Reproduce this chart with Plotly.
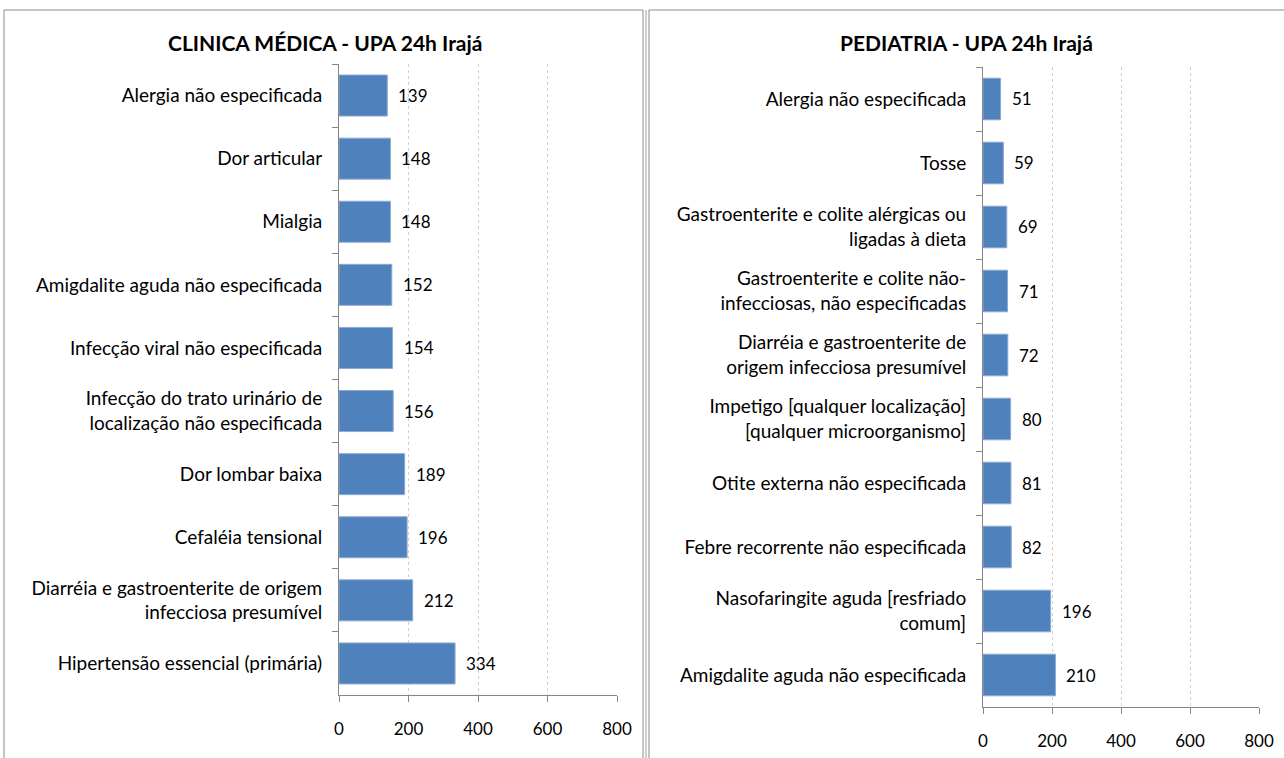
import plotly.graph_objects as go

W, H = 1284, 758

left_title = "CLINICA MÉDICA - UPA 24h Irajá"
left_cats = [
    "Alergia não especificada",
    "Dor articular",
    "Mialgia",
    "Amigdalite aguda não especificada",
    "Infecção viral não especificada",
    "Infecção do trato urinário de<br>localização não especificada",
    "Dor lombar baixa",
    "Cefaléia tensional",
    "Diarréia e gastroenterite de origem<br>infecciosa presumível",
    "Hipertensão essencial (primária)",
]
left_vals = [139, 148, 148, 152, 154, 156, 189, 196, 212, 334]

right_title = "PEDIATRIA - UPA 24h Irajá"
right_cats = [
    "Alergia não especificada",
    "Tosse",
    "Gastroenterite e colite alérgicas ou<br>ligadas à dieta",
    "Gastroenterite e colite não-<br>infecciosas, não especificadas",
    "Diarréia e gastroenterite de<br>origem infecciosa presumível",
    "Impetigo [qualquer localização]<br>[qualquer microorganismo]",
    "Otite externa não especificada",
    "Febre recorrente não especificada",
    "Nasofaringite aguda [resfriado<br>comum]",
    "Amigdalite aguda não especificada",
]
right_vals = [51, 59, 69, 71, 72, 80, 81, 82, 196, 210]

x_ticks = [0, 200, 400, 600, 800]

FONT = "Lato, 'Open Sans', sans-serif"
BAR = "#4F81BD"

fig = go.Figure()

def px_x(p):
    return p / W

def px_y(p):
    return 1 - p / H

panels = [
    dict(cats=left_cats, vals=left_vals, xa="x", ya="y",
         xdom=[px_x(339), px_x(617)], ydom=[px_y(695), px_y(64)],
         title=left_title, tx=px_x(325)),
    dict(cats=right_cats, vals=right_vals, xa="x2", ya="y2",
         xdom=[px_x(983), px_x(1259)], ydom=[px_y(707), px_y(67)],
         title=right_title, tx=px_x(966)),
]

annotations = []
for i, p in enumerate(panels):
    fig.add_trace(go.Bar(
        x=p["vals"], y=p["cats"], orientation="h",
        xaxis=p["xa"], yaxis=p["ya"],
        marker=dict(color=BAR, line=dict(color="#8EAAD3", width=1)),
        width=0.65, showlegend=False, hoverinfo="x+y",
    ))
    for c, v in zip(p["cats"], p["vals"]):
        annotations.append(dict(
            x=v, y=c, xref=p["xa"], yref=p["ya"], text=str(v),
            showarrow=False, xanchor="left", xshift=9,
            font=dict(family=FONT, size=17, color="#000"),
        ))
    annotations.append(dict(
        x=p["tx"], y=px_y(42), xref="paper", yref="paper",
        text="<b>" + p["title"] + "</b>", showarrow=False,
        xanchor="center", yanchor="middle",
        font=dict(family=FONT, size=21, color="#000"),
    ))

axis_common_x = dict(
    range=[0, 800], tickvals=x_ticks, ticks="outside", ticklen=6,
    tickcolor="#868686", showline=True, linecolor="#868686", linewidth=1,
    showgrid=True, gridcolor="#D0D0D0", griddash="dot", gridwidth=1,
    zeroline=False, tickfont=dict(family=FONT, size=17, color="#000"),
    ticklabelstandoff=13, fixedrange=True, automargin=False,
)
axis_common_y = dict(
    autorange="reversed", ticks="outside", ticklen=6, tickson="boundaries",
    tickcolor="#868686", showline=True, linecolor="#868686", linewidth=1,
    showgrid=False, tickfont=dict(family=FONT, size=19, color="#000"),
    ticklabelstandoff=12, fixedrange=True, automargin=False,
)

fig.update_layout(
    width=W, height=H,
    margin=dict(l=0, r=0, t=0, b=0, autoexpand=False),
    paper_bgcolor="white", plot_bgcolor="white",
    xaxis=dict(domain=panels[0]["xdom"], anchor="y", **axis_common_x),
    yaxis=dict(domain=panels[0]["ydom"], anchor="x", **axis_common_y),
    xaxis2=dict(domain=panels[1]["xdom"], anchor="y2", **axis_common_x),
    yaxis2=dict(domain=panels[1]["ydom"], anchor="x2", **axis_common_y),
    annotations=annotations,
    shapes=[
        dict(type="rect", xref="paper", yref="paper",
             x0=px_x(4), x1=px_x(643), y0=px_y(775), y1=px_y(10),
             line=dict(color="#8C8C8C", width=1)),
        dict(type="line", xref="paper", yref="paper",
             x0=px_x(646), x1=px_x(646), y0=px_y(775), y1=px_y(10),
             line=dict(color="#A0A0A0", width=1)),
        dict(type="rect", xref="paper", yref="paper",
             x0=px_x(649), x1=px_x(1295), y0=px_y(775), y1=px_y(10),
             line=dict(color="#8C8C8C", width=1)),
    ],
)

fig.write_html("out.html", config={"displayModeBar": False},
               post_script="document.body.style.margin='0';")
